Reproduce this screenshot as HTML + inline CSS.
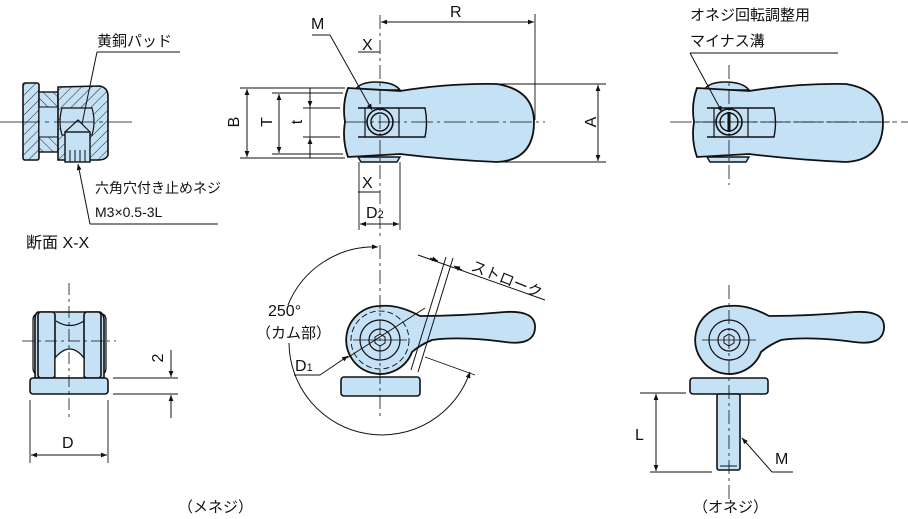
<!DOCTYPE html>
<html><head><meta charset="utf-8"><style>
html,body{margin:0;padding:0;background:#fff}
svg{display:block}
text{font-family:"Liberation Sans","Noto Sans CJK JP",sans-serif;fill:#111}
</style></head><body>
<svg width="908" height="519" viewBox="0 0 908 519" xmlns="http://www.w3.org/2000/svg">
<defs>
<pattern id="h" width="7" height="7" patternUnits="userSpaceOnUse" patternTransform="rotate(45)">
<rect width="7" height="7" fill="#c5e1f5"/><line x1="0" y1="0" x2="0" y2="7" stroke="#222" stroke-width="1"/></pattern>
<pattern id="h2" width="7" height="7" patternUnits="userSpaceOnUse" patternTransform="rotate(-45)">
<rect width="7" height="7" fill="#c5e1f5"/><line x1="0" y1="0" x2="0" y2="7" stroke="#222" stroke-width="1"/></pattern>
<marker id="a" viewBox="0 0 10 10" refX="10" refY="5" markerWidth="8" markerHeight="6" orient="auto-start-reverse"><path d="M0,1 L10,5 L0,9z" fill="#111"/></marker>
<g id="topview">
<path d="M355,90 Q360,82 376,82 Q394,82 400,90 Z" fill="#c5e1f5" stroke="#111" stroke-width="1.6"/>
<path d="M358,157 L400,157 L397,162 L361,162Z" fill="#c5e1f5" stroke="#111" stroke-width="1.4"/>
<path d="M348,88 L400,91 Q450,83 497,84 Q534,90 534,122 Q534,160 497,162 Q450,160 400,154 L348,157 Q342,140 345,122 Q342,104 348,88Z" fill="#c5e1f5" stroke="#111" stroke-width="1.8"/>
<path d="M358,108 L425,108 Q428,122 425,137 L358,137" fill="none" stroke="#111" stroke-width="1.4"/>
<line x1="365" y1="108" x2="365" y2="137" stroke="#111" stroke-width="1.2"/>
<line x1="399" y1="108" x2="399" y2="137" stroke="#111" stroke-width="1.2"/>
<circle cx="380" cy="122" r="13" fill="#c5e1f5" stroke="#111" stroke-width="1.6"/>
<circle cx="380" cy="122" r="9" fill="#c5e1f5" stroke="#111" stroke-width="1.4"/>
<line x1="345" y1="122" x2="545" y2="122" stroke="#111" stroke-width="0.8" stroke-dasharray="22,4,3,4"/>
</g>
<g id="sideview">
<path d="M380,306 Q398,304 420,316 Q460,316 505,312 Q536,310 535,328 Q534,346 505,342 Q460,336 432,340 Q420,345 412,352 A34,34 0 1 1 380,306Z" fill="#c5e1f5" stroke="#111" stroke-width="1.8"/>
<circle cx="380" cy="340" r="20" fill="none" stroke="#111" stroke-width="1.2"/>
<circle cx="380" cy="340" r="11" fill="none" stroke="#111" stroke-width="1.2"/>
<path d="M380,334 L385,337 L385,343 L380,346 L375,343 L375,337Z" fill="none" stroke="#111"/>
<line x1="353" y1="340" x2="407" y2="340" stroke="#111" stroke-width="0.8"/>
</g>
</defs>
<g stroke="#111" fill="none">
<!-- section view -->
<rect x="23" y="83" width="16" height="77" rx="2" fill="url(#h)" stroke-width="1.6"/>
<rect x="39" y="92" width="19" height="60" fill="url(#h2)" stroke-width="1.4"/>
<rect x="39" y="107" width="19" height="30" fill="#c5e1f5" stroke-width="1"/>
<path d="M58,87 L100,86 Q108,88 108,96 L108,155 Q106,160 98,160 L58,160Z" fill="url(#h)" stroke-width="1.6"/>
<path d="M62,108 L92,108 Q96,122 92,135 L62,135 Q58,122 62,108Z" fill="#c5e1f5" stroke-width="1.2"/>
<rect x="65" y="132" width="25" height="30" fill="#c5e1f5" stroke-width="1.4"/>
<path d="M65,132 L78,120 L90,132" stroke-width="1.2"/>
<line x1="70" y1="150" x2="70" y2="162"/><line x1="75" y1="150" x2="75" y2="162"/><line x1="80" y1="150" x2="80" y2="162"/><line x1="85" y1="150" x2="85" y2="162"/>
<line x1="0" y1="122" x2="132" y2="122" stroke-width="0.8" stroke-dasharray="40,5,4,5"/>
<line x1="97" y1="52" x2="180" y2="52"/><line x1="97" y1="52" x2="82" y2="124"/>
<line x1="90" y1="224" x2="218" y2="224"/><line x1="90" y1="224" x2="78" y2="164" marker-end="url(#a)"/>
<!-- top middle -->
<use href="#topview"/>
<line x1="380" y1="15" x2="380" y2="240" stroke-width="0.8" stroke-dasharray="14,4,3,4"/>
<line x1="240" y1="88" x2="345" y2="88" stroke-width="0.9"/><line x1="240" y1="158" x2="345" y2="158" stroke-width="0.9"/>
<line x1="247" y1="89" x2="247" y2="157" marker-start="url(#a)" marker-end="url(#a)"/>
<line x1="272" y1="93" x2="343" y2="93" stroke-width="0.9"/><line x1="272" y1="154" x2="343" y2="154" stroke-width="0.9"/>
<line x1="279" y1="94" x2="279" y2="153" marker-start="url(#a)" marker-end="url(#a)"/>
<line x1="303" y1="108" x2="340" y2="108" stroke-width="0.9"/><line x1="303" y1="137" x2="340" y2="137" stroke-width="0.9"/>
<line x1="310" y1="88" x2="310" y2="107" marker-end="url(#a)"/><line x1="310" y1="158" x2="310" y2="138" marker-end="url(#a)"/>
<line x1="310" y1="107" x2="310" y2="138" stroke-width="0.8"/>
<line x1="381" y1="22" x2="534" y2="22" marker-start="url(#a)" marker-end="url(#a)"/>
<line x1="535" y1="14" x2="535" y2="120" stroke-width="0.9"/>
<line x1="497" y1="84" x2="606" y2="84" stroke-width="0.9"/><line x1="497" y1="162" x2="606" y2="162" stroke-width="0.9"/>
<line x1="598" y1="85" x2="598" y2="161" marker-start="url(#a)" marker-end="url(#a)"/>
<line x1="312" y1="35" x2="330" y2="35"/><line x1="330" y1="35" x2="372" y2="110" marker-end="url(#a)"/>
<line x1="358" y1="52" x2="380" y2="52"/><line x1="358" y1="192" x2="380" y2="192"/>
<line x1="359" y1="162" x2="359" y2="230" stroke-width="0.9"/><line x1="400" y1="162" x2="400" y2="230" stroke-width="0.9"/>
<line x1="360" y1="224" x2="399" y2="224" marker-start="url(#a)" marker-end="url(#a)"/>
<!-- bottom left -->
<path d="M33,320 Q33,314 38,314 L38,374 Q33,374 33,368Z" fill="#c5e1f5" stroke-width="1.2"/>
<path d="M106,320 Q106,314 101,314 L101,374 Q106,374 106,368Z" fill="#c5e1f5" stroke-width="1.2"/>
<path d="M38,312 L100,312 Q104,314 104,320 L104,378 L35,378 L35,320 Q35,313 38,312Z" fill="#c5e1f5" stroke-width="1.6"/>
<rect x="38" y="312" width="17" height="66" rx="3" fill="#c5e1f5" stroke-width="1.6"/>
<rect x="84" y="312" width="17" height="66" rx="3" fill="#c5e1f5" stroke-width="1.6"/>
<path d="M55,358 Q70,340 84,358 L84,378 L55,378Z" fill="#fff" stroke-width="1.2"/>
<path d="M56,321 Q70,330 84,321" stroke-width="1.2"/>
<rect x="30" y="378" width="78" height="16" rx="3" fill="#c5e1f5" stroke-width="1.6"/>
<line x1="69" y1="283" x2="69" y2="418" stroke-width="0.8" stroke-dasharray="12,4,3,4"/>
<line x1="22" y1="341" x2="116" y2="341" stroke-width="0.8" stroke-dasharray="12,4,3,4"/>
<line x1="113" y1="378" x2="178" y2="378" stroke-width="0.9"/><line x1="113" y1="394" x2="178" y2="394" stroke-width="0.9"/>
<line x1="171" y1="350" x2="171" y2="377" marker-end="url(#a)"/><line x1="171" y1="418" x2="171" y2="395" marker-end="url(#a)"/>
<line x1="30" y1="400" x2="30" y2="463" stroke-width="0.9"/><line x1="108" y1="400" x2="108" y2="463" stroke-width="0.9"/>
<line x1="31" y1="455" x2="107" y2="455" marker-start="url(#a)" marker-end="url(#a)"/>
<!-- bottom middle -->
<rect x="341" y="377" width="79" height="19" rx="3" fill="#c5e1f5" stroke-width="1.6"/>
<use href="#sideview"/>
<circle cx="380" cy="340" r="29" stroke-width="0.9" stroke-dasharray="6,3"/>
<line x1="380" y1="245" x2="380" y2="418" stroke-width="0.8" stroke-dasharray="14,4,3,4"/>
<line x1="347" y1="358" x2="425" y2="308" stroke-width="0.9"/>
<line x1="411" y1="370" x2="446" y2="257" stroke-width="1"/><line x1="418" y1="372" x2="453" y2="258" stroke-width="1"/>
<line x1="418" y1="255" x2="545" y2="300"/>
<line x1="430" y1="258" x2="438" y2="261" marker-end="url(#a)"/><line x1="462" y1="270" x2="454" y2="266" marker-end="url(#a)"/>
<line x1="425" y1="357" x2="475" y2="375" stroke-width="0.9"/>
<path d="M378,247 A93,93 0 0 0 288,305" marker-start="url(#a)"/>
<path d="M289,343 A93,93 0 0 0 470,372" marker-end="url(#a)"/>
<line x1="294" y1="375" x2="320" y2="375"/><line x1="320" y1="375" x2="348" y2="356" marker-end="url(#a)"/>
<!-- top right -->
<use href="#topview" transform="translate(349,0)"/>
<line x1="729" y1="65" x2="729" y2="185" stroke-width="0.8" stroke-dasharray="14,4,3,4"/>
<line x1="670" y1="122" x2="908" y2="122" stroke-width="0.8" stroke-dasharray="22,4,3,4"/>
<line x1="690" y1="53" x2="838" y2="53"/><line x1="690" y1="53" x2="722" y2="112" marker-end="url(#a)"/>
<line x1="729" y1="112" x2="729" y2="132" stroke-width="3"/>
<!-- bottom right -->
<use href="#sideview" transform="translate(349,0)"/>
<rect x="690" y="378" width="78" height="16" rx="3" fill="#c5e1f5" stroke-width="1.6"/>
<rect x="717" y="394" width="23" height="76" rx="2" fill="#c5e1f5" stroke-width="1.6"/>
<line x1="720" y1="466" x2="737" y2="466"/>
<line x1="729" y1="285" x2="729" y2="500" stroke-width="0.8" stroke-dasharray="14,4,3,4"/>
<line x1="640" y1="393" x2="686" y2="393" stroke-width="0.9"/><line x1="650" y1="472" x2="712" y2="472" stroke-width="0.9"/>
<line x1="656" y1="394" x2="656" y2="471" marker-start="url(#a)" marker-end="url(#a)"/>
<line x1="772" y1="472" x2="793" y2="472"/><line x1="772" y1="472" x2="742" y2="438" marker-end="url(#a)"/>
</g>
<g font-size="15">
<text x="97" y="46">黄銅パッド</text>
<text x="95" y="193" font-size="14">六角穴付き止めネジ</text>
<text x="95" y="217" font-size="14">M3×0.5-3L</text>
<text x="26" y="248" font-size="16">断面 X-X</text>
<text x="311" y="29" font-size="16">M</text>
<text x="450" y="17" font-size="16">R</text>
<text x="362" y="50" font-size="16">X</text>
<text x="362" y="188" font-size="16">X</text>
<text x="366" y="218" font-size="16">D<tspan font-size="11">2</tspan></text>
<text transform="translate(239,122) rotate(-90)" text-anchor="middle" font-size="16">B</text>
<text transform="translate(272,122) rotate(-90)" text-anchor="middle" font-size="16">T</text>
<text transform="translate(302,122) rotate(-90)" text-anchor="middle" font-size="16">t</text>
<text transform="translate(596,122) rotate(-90)" text-anchor="middle" font-size="16">A</text>
<text transform="translate(163,358) rotate(-90)" text-anchor="middle" font-size="16">2</text>
<text x="62" y="448" font-size="16">D</text>
<text x="268" y="316" font-size="16">250°</text>
<text x="256" y="338">（カム部）</text>
<text x="295" y="371" font-size="16">D<tspan font-size="11">1</tspan></text>
<text transform="translate(470,270) rotate(22)" font-size="15">ストローク</text>
<text x="690" y="20">オネジ回転調整用</text>
<text x="690" y="46">マイナス溝</text>
<text x="635" y="440" font-size="16">L</text>
<text x="775" y="464" font-size="16">M</text>
<text x="178" y="512">（メネジ）</text>
<text x="693" y="512">（オネジ）</text>
</g>
</svg>
</body></html>
